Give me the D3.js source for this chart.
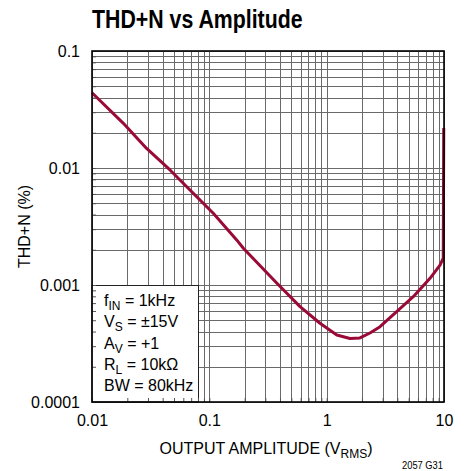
<!DOCTYPE html>
<html>
<head>
<meta charset="utf-8">
<script src="https://cdn.jsdelivr.net/npm/d3@7"></script>
<style>
  body { margin: 0; background: #fff; }
  text { font-family: "Liberation Sans", Arial, sans-serif; fill: #000; }
</style>
</head>
<body>
<svg width="471" height="471"></svg>
<script>
// THD+N (%) vs output amplitude (Vrms)
const amplitude = [0.01, 0.0185, 0.0292, 0.0462, 0.0684, 0.108, 0.171, 0.195, 0.375, 0.593, 0.877,
  1.22, 1.58, 1.92, 2.34, 2.85, 3.95, 5.47, 7.6, 9.25, 9.85, 9.95];
const thdn = [0.044, 0.0241, 0.0147, 0.00962, 0.00649, 0.0041, 0.00243, 0.00206, 0.00104, 0.000653, 0.000471,
  0.000374, 0.000349, 0.000353, 0.000389, 0.00044, 0.000592, 0.000794, 0.00114, 0.00148, 0.0017, 0.022];

const xLabels = [0.01, 0.1, 1, 10];
const yLabels = [0.0001, 0.001, 0.01, 0.1];

// legend lines: [main, subscript, rest]
const legendLines = [
  ['f', 'IN', ' = 1kHz'],
  ['V', 'S', ' = ±15V'],
  ['A', 'V', ' = +1'],
  ['R', 'L', ' = 10kΩ'],
  ['BW = 80kHz', '', '']
];

const svg = d3.select('svg');
const pL = 92, pR = 444, pT = 51, pB = 402;

const x = d3.scaleLog().domain([0.01, 10]).range([pL, pR]);
const y = d3.scaleLog().domain([0.0001, 0.1]).range([pB, pT]);

// title (condensed bold look)
svg.append('text')
  .attr('transform', `translate(${pL},28) scale(0.82,1)`)
  .style('font-weight', 'bold')
  .style('font-size', '26px')
  .text('THD+N vs Amplitude');

// grid
const grid = svg.append('g').attr('stroke', '#6a6a6a').attr('stroke-width', 1);
grid.selectAll('line.v')
  .data(x.ticks())
  .join('line')
  .attr('class', 'v')
  .attr('x1', (d) => Math.round(x(d)) + 0.5)
  .attr('x2', (d) => Math.round(x(d)) + 0.5)
  .attr('y1', pT)
  .attr('y2', pB);
grid.selectAll('line.h')
  .data(y.ticks())
  .join('line')
  .attr('class', 'h')
  .attr('y1', (d) => Math.round(y(d)) + 0.5)
  .attr('y2', (d) => Math.round(y(d)) + 0.5)
  .attr('x1', pL)
  .attr('x2', pR);

// curve
svg.append('path')
  .datum(amplitude.map((a, i) => [a, thdn[i]]))
  .attr('fill', 'none')
  .attr('stroke', '#9a0a36')
  .attr('stroke-width', 3)
  .attr('stroke-linejoin', 'round')
  .attr('d', d3.line().x((d) => x(d[0])).y((d) => y(d[1])));

// legend box (covers grid)
const boxRight = Math.round(x(0.08)) + 0.5;
const boxTop = Math.round(y(0.001)) + 0.5;
svg.append('rect')
  .attr('x', pL)
  .attr('y', boxTop)
  .attr('width', boxRight - pL)
  .attr('height', pB - boxTop)
  .attr('fill', '#fff')
  .attr('stroke', '#222')
  .attr('stroke-width', 1);

// small inward ticks, visible inside the legend box
svg.append('g')
  .attr('transform', `translate(${pL},0)`)
  .call(d3.axisLeft(y).tickSize(-4).tickFormat(''))
  .call((g) => g.select('.domain').remove())
  .selectAll('line').attr('stroke', '#555');
svg.append('g')
  .attr('transform', `translate(0,${pB})`)
  .call(d3.axisBottom(x).tickSize(-4).tickFormat(''))
  .call((g) => g.select('.domain').remove())
  .selectAll('line').attr('stroke', '#555');

const legend = svg.append('g').style('font-size', '16px');
legendLines.forEach((l, i) => {
  const t = legend.append('text').attr('x', 104).attr('y', 306 + i * 21.3);
  t.append('tspan').text(l[0]);
  if (l[1]) {
    t.append('tspan').attr('dy', 4).style('font-size', '12px').text(l[1]);
    t.append('tspan').attr('dy', -4).text(l[2]);
  }
});

// frame
svg.append('rect')
  .attr('x', pL)
  .attr('y', pT)
  .attr('width', pR - pL)
  .attr('height', pB - pT)
  .attr('fill', 'none')
  .attr('stroke', '#000')
  .attr('stroke-width', 1.6);

// axes labels
svg.append('g')
  .attr('transform', `translate(0,${pB})`)
  .call(d3.axisBottom(x).tickValues(xLabels).tickSize(0).tickPadding(13).tickFormat(d3.format('~g')))
  .call((g) => g.select('.domain').remove())
  .selectAll('text').style('font-size', '16px').attr('fill', '#000');

svg.append('g')
  .attr('transform', `translate(${pL},0)`)
  .call(d3.axisLeft(y).tickValues(yLabels).tickSize(0).tickPadding(12).tickFormat((d) => d3.format('~f')(d)))
  .call((g) => g.select('.domain').remove())
  .selectAll('text').style('font-size', '16px').attr('fill', '#000');

// axis titles
const xt = svg.append('text')
  .attr('x', (pL + pR) / 2 - 2)
  .attr('y', 454)
  .attr('text-anchor', 'middle')
  .style('font-size', '16px');
xt.append('tspan').text('OUTPUT AMPLITUDE (V');
xt.append('tspan').attr('dy', 4).style('font-size', '12px').text('RMS');
xt.append('tspan').attr('dy', -4).text(')');

svg.append('text')
  .attr('transform', `translate(30,${(pT + pB) / 2}) rotate(-90)`)
  .attr('text-anchor', 'middle')
  .style('font-size', '16px')
  .text('THD+N (%)');

svg.append('text')
  .attr('transform', 'translate(443,469) scale(0.85,1)')
  .attr('text-anchor', 'end')
  .style('font-size', '11px')
  .text('2057 G31');
</script>
</body>
</html>
